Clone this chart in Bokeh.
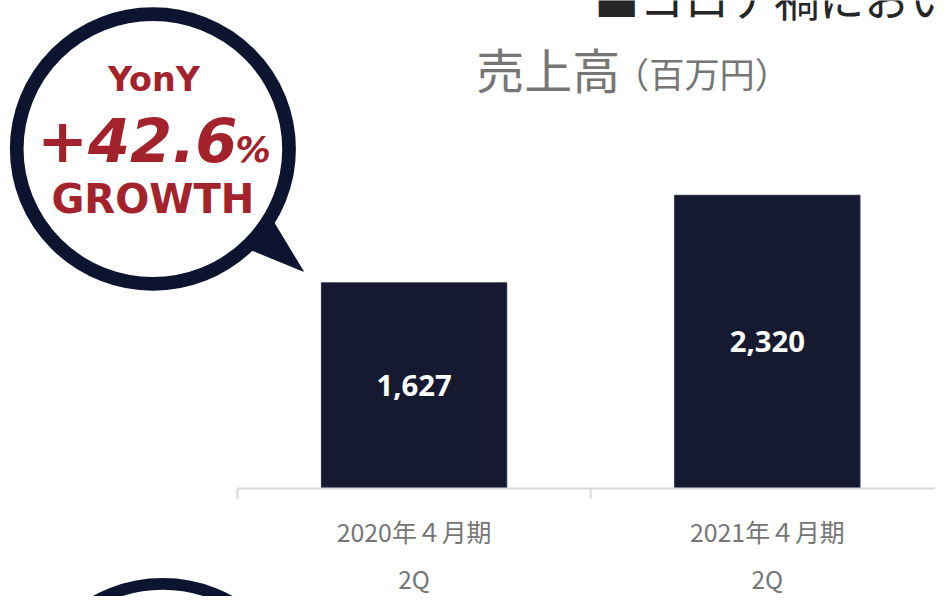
from bokeh.plotting import figure
from bokeh.models import Range1d
from bokeh.core.properties import value
from bokeh.embed import file_html
from bokeh.resources import INLINE

# ---- data ----
categories = ["2020年４月期", "2021年４月期"]
periods = ["2Q", "2Q"]
sales = [1627, 2320]            # 売上高（百万円）
title_main = ["売上高"]
title_unit = ["（百万円）"]
headline = ["■コロナ禍におい"]
bubble_top = ["YonY"]
bubble_value = ["+42.6"]
bubble_pct = ["%"]
bubble_bottom = ["GROWTH"]

# ---- geometry (reference picture is 951 x 612; the figure is scaled to fit) ----
W, H = 935, 596
REF_W, REF_H = 951, 612
F = 0.978                        # font / stroke scale
X0, XS = 241.0, 359.3            # reference pixel of category boundary 0, pixels per category
Y0, KY = 501.0, 301.0 / 2320.0   # reference baseline pixel, pixels per million yen


def dx(ix):
    return (ix - X0) / XS


def dy(iy):
    return (Y0 - iy) / KY


def fs(px):
    return f"{px * F:.1f}px"


p = figure(width=W, height=H, output_backend="svg", toolbar_location=None,
           x_range=Range1d(dx(0), dx(REF_W)),
           y_range=Range1d(dy(REF_H), dy(0)),
           min_border=0, x_axis_location=None, y_axis_location=None,
           outline_line_color=None, background_fill_color="white",
           border_fill_color="white")
p.grid.visible = False

NAVY = "#0c1430"
BAR = "#161a30"
RED = "#a3222b"
GRAY = "#767676"
CJK = value("Noto Sans CJK JP")

# headline (cut off at the top, as in the slide)
p.text(x=[dx(604)], y=[dy(-3)], text=headline, text_font=CJK,
       text_font_size=fs(46), text_baseline="middle", text_align="left",
       text_color="#262626")

# chart title
p.text(x=[dx(484)], y=[dy(69)], text=title_main, text_font=CJK,
       text_font_size=fs(49), text_baseline="middle", text_align="left", text_color=GRAY)
p.text(x=[dx(624)], y=[dy(74)], text=title_unit, text_font=CJK,
       text_font_size=fs(36), text_baseline="middle", text_align="left", text_color=GRAY)

# bars
xs = [i + 0.5 for i in range(len(sales))]
p.vbar(x=xs, top=sales, bottom=0, width=188.5 / XS, fill_color=BAR,
       line_color="#2a2f45", line_width=1)
p.text(x=xs, y=[v / 2 for v in sales], text=[f"{v:,}" for v in sales],
       text_font=value("Noto Sans"), text_font_style="bold", text_font_size=fs(30),
       text_baseline="middle", text_align="center", text_color="white")

# category axis
nb = len(sales) + 1
p.segment(x0=0, y0=0, x1=dx(960), y1=0, line_color="#d9d9d9", line_width=2)
p.segment(x0=list(range(nb)), y0=[0] * nb, x1=list(range(nb)), y1=[dy(512)] * nb,
          line_color="#d9d9d9", line_width=2)
p.text(x=xs, y=[dy(544.5)] * len(xs), text=categories, text_font=CJK,
       text_font_size=fs(25.5), text_baseline="middle", text_align="center", text_color=GRAY)
p.text(x=xs, y=[dy(594)] * len(xs), text=periods, text_font=CJK,
       text_font_size=fs(25), text_baseline="middle", text_align="center", text_color=GRAY)

# speech bubble
p.patch(x=[dx(278), dx(308), dx(255)], y=[dy(228), dy(278), dy(256)],
        fill_color=NAVY, line_color=NAVY, line_width=1)
p.ellipse(x=[dx(155)], y=[dy(152.5)], width=277 / XS, height=277 / KY,
          fill_color="white", line_color=NAVY, line_width=14 * F)
p.text(x=[dx(156)], y=[dy(81.5)], text=bubble_top, text_font=value("DejaVu Sans"),
       text_font_style="bold", text_font_size=fs(34), text_baseline="middle",
       text_align="center", text_color=RED)
p.text(x=[dx(241)], y=[dy(143)], text=bubble_value, text_font=value("DejaVu Sans"),
       text_font_style="bold italic", text_font_size=fs(62), text_baseline="middle",
       text_align="right", text_color=RED)
p.text(x=[dx(239)], y=[dy(153)], text=bubble_pct, text_font=value("DejaVu Sans"),
       text_font_style="bold italic", text_font_size=fs(36), text_baseline="middle",
       text_align="left", text_color=RED)
p.text(x=[dx(155)], y=[dy(204)], text=bubble_bottom, text_font=value("DejaVu Sans"),
       text_font_style="bold", text_font_size=fs(41), text_baseline="middle",
       text_align="center", text_color=RED)

# second bubble peeking at the bottom
p.ellipse(x=[dx(165)], y=[dy(739)], width=280 / XS, height=280 / KY,
          fill_color="white", line_color=NAVY, line_width=12 * F)

open("out.html", "w").write(file_html(p, INLINE))
